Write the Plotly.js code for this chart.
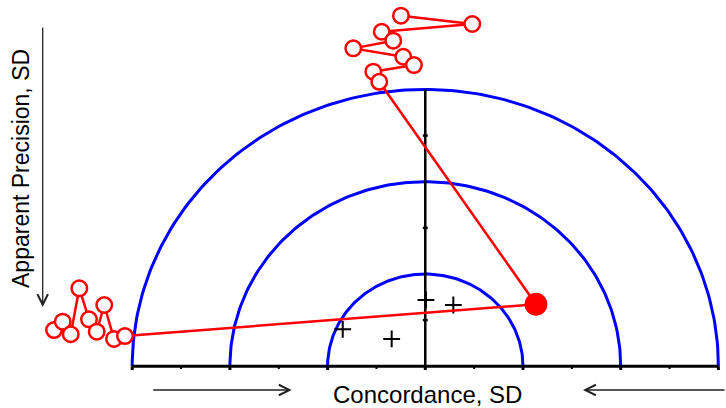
<!DOCTYPE html>
<html>
<head>
<meta charset="utf-8">
<script src="https://cdn.plot.ly/plotly-3.0.1.min.js"></script>
<style>
  html, body { margin:0; padding:0; background:#fff; }
  #chart { width:726px; height:408px; }
</style>
</head>
<body>
<div id="chart"></div>
<script>
// concordance / apparent precision chart

// reference semicircles (SD units)
const radii = [1, 2, 3];
const majorTicks = [-3, -2, -1, 0, 1, 2, 3];
const minorTicks = [-2.5, -1.5, -0.5, 0.5, 1.5, 2.5];
const vertTicks = [0.5, 1.5, 2.5];

// series
const leftX = [-3.800, -3.711, -3.629, -3.541, -3.442, -3.363, -3.286, -3.186, -3.074];
const leftY = [0.393, 0.483, 0.347, 0.845, 0.509, 0.375, 0.664, 0.296, 0.328];
const topX = [-0.249, 0.481, -0.446, -0.328, -0.737, -0.225, -0.116, -0.532, -0.471];
const topY = [3.799, 3.709, 3.625, 3.528, 3.445, 3.354, 3.264, 3.192, 3.083];
const meanX = [1.133];
const meanY = [0.672];
const crossX = [-0.845, -0.344, 0.007, 0.287];
const crossY = [0.401, 0.296, 0.718, 0.664];

const RED = '#ff0000', BLUE = '#0000ff';
const FONT = 'Liberation Sans, Arial, sans-serif';

document.addEventListener('DOMContentLoaded', function(){
  const data = [];

  // blue semicircles
  radii.forEach(r=>{
    const xs = [], ys = [];
    for(let i=0;i<=180;i++){
      const t = Math.PI * i / 180;
      xs.push(r*Math.cos(t)); ys.push(r*Math.sin(t));
    }
    data.push({x:xs, y:ys, type:'scatter', mode:'lines', line:{color:BLUE, width:3}, hoverinfo:'skip'});
  });

  // axes
  const outer = radii[radii.length-1];
  data.push({x:[-outer, outer], y:[0,0], type:'scatter', mode:'lines', line:{color:'#000', width:3}, hoverinfo:'skip'});
  data.push({x:[0,0], y:[0, outer], type:'scatter', mode:'lines', line:{color:'#000', width:2.5}, hoverinfo:'skip'});

  // crosses
  data.push({x:crossX, y:crossY, type:'scatter', mode:'markers',
    marker:{symbol:'cross-thin', size:12, line:{color:'#000', width:2}}, hoverinfo:'skip'});

  // red trajectories ending at the mean
  const redTrace = (xs, ys)=>({
    x: xs.concat(meanX), y: ys.concat(meanY), type:'scatter', mode:'lines+markers',
    line:{color:RED, width:2.5},
    marker:{
      size: xs.map(()=>15.5).concat([20]),
      color: xs.map(()=>'#fff').concat([RED]),
      opacity:1,
      line:{color:RED, width:2.5}
    },
    hoverinfo:'skip'
  });
  data.push(redTrace(leftX, leftY));
  data.push(redTrace(topX, topY));

  // tick marks
  const shapes = [];
  majorTicks.forEach(t=>shapes.push({type:'line', xref:'x', yref:'y', x0:t, x1:t, y0:0, y1:-0.04, line:{color:'#000', width:3}}));
  minorTicks.forEach(t=>shapes.push({type:'line', xref:'x', yref:'y', x0:t, x1:t, y0:0, y1:-0.03, line:{color:'#000', width:2}}));
  vertTicks.forEach(t=>shapes.push({type:'line', xref:'x', yref:'y', x0:-0.025, x1:0.025, y0:t, y1:t, line:{color:'#000', width:2.5}}));

  const arrow = {text:'', showarrow:true, arrowhead:5, arrowsize:1.6, arrowwidth:1.3, arrowcolor:'#222', xref:'paper', yref:'paper', standoff:0};

  const layout = {
    width:726, height:408,
    margin:{t:0, r:0, l:0, b:0},
    paper_bgcolor:'#fff', plot_bgcolor:'#fff',
    showlegend:false,
    xaxis:{range:[-4.353, 3.078], visible:false, fixedrange:true},
    yaxis:{range:[-0.452, 3.969], visible:false, fixedrange:true},
    shapes: shapes,
    annotations:[
      {text:'Concordance, SD', showarrow:false, xref:'paper', yref:'paper', x:0.589, y:0.033,
       xanchor:'center', yanchor:'middle', font:{family:FONT, size:24, color:'#000'}},
      {text:'Apparent Precision, SD', showarrow:false, xref:'paper', yref:'paper', x:0.029, y:0.586,
       xanchor:'center', yanchor:'middle', textangle:-90, font:{family:FONT, size:23, color:'#000'}},
      Object.assign({}, arrow, {x:42.7/726, y:1-307/408, ax:0, ay:-281}),
      Object.assign({}, arrow, {x:291.7/726, y:1-390/408, ax:-140, ay:0}),
      Object.assign({}, arrow, {x:583/726, y:1-390/408, ax:143, ay:0})
    ]
  };

  Plotly.newPlot('chart', data, layout, {staticPlot:true, displayModeBar:false});
});
</script>
</body>
</html>
